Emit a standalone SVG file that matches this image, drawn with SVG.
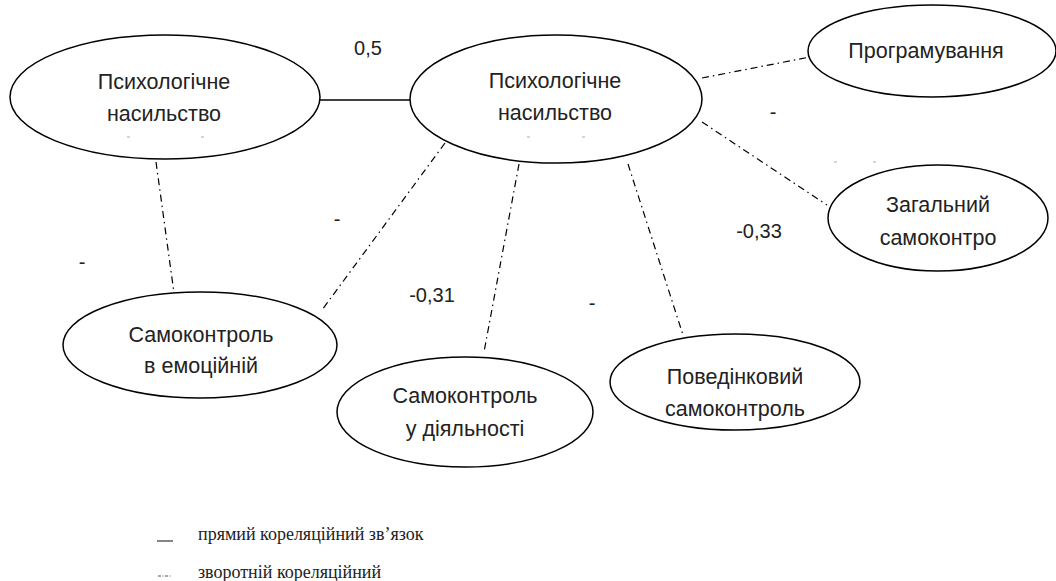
<svg xmlns="http://www.w3.org/2000/svg" width="1056" height="581" viewBox="0 0 1056 581">
<style>
.node{fill:#fff;stroke:#000;stroke-width:1.5}
.t{font-family:"Liberation Sans",Arial,sans-serif;font-size:21.5px;fill:#222;text-anchor:middle}
.lbl{font-family:"Liberation Sans",Arial,sans-serif;font-size:20px;fill:#222;text-anchor:middle}
.solid{stroke:#000;stroke-width:1.5;fill:none}
.dd{stroke:#000;stroke-width:1.2;fill:none;stroke-dasharray:7 4 1.5 4}
.tick{stroke:#aaa;stroke-width:1}
.leg{font-family:"Liberation Serif","Times New Roman",serif;font-size:18px;fill:#222}
</style>
<rect width="1056" height="581" fill="#fff"/>
<g id="connectors">
<line class="solid" x1="320" y1="100" x2="410" y2="100"/>
<line class="dd" x1="702" y1="78" x2="810" y2="57"/>
<line class="dd" x1="702" y1="122" x2="827" y2="205"/>
<line class="dd" x1="156" y1="162" x2="174" y2="293"/>
<line class="dd" x1="445" y1="143" x2="322" y2="310"/>
<line class="dd" x1="519" y1="164" x2="484" y2="352"/>
<line class="dd" x1="628" y1="164" x2="683" y2="335"/>
</g>
<g id="n1">
<ellipse class="node" cx="165" cy="97" rx="155" ry="62"/>
<text class="t" x="164" y="89">Психологічне</text>
<text class="t" x="164" y="121">насильство</text>
<line class="tick" x1="127" y1="137" x2="130" y2="137"/>
<line class="tick" x1="201" y1="137" x2="204" y2="137"/>
</g>
<g id="n2">
<ellipse class="node" cx="556" cy="99" rx="146" ry="64"/>
<text class="t" x="555" y="88">Психологічне</text>
<text class="t" x="555" y="120">насильство</text>
<line class="tick" x1="527" y1="137" x2="530" y2="137"/>
<line class="tick" x1="582" y1="137" x2="585" y2="137"/>
</g>
<g id="n3">
<ellipse class="node" cx="932" cy="51" rx="124" ry="46"/>
<text class="t" x="926" y="58">Програмування</text>
</g>
<g id="n4">
<ellipse class="node" cx="938" cy="218" rx="110" ry="53"/>
<text class="t" x="938" y="212">Загальний</text>
<text class="t" x="938" y="245">самоконтро</text>
</g>
<g id="n5">
<ellipse class="node" cx="200" cy="345" rx="137" ry="53"/>
<text class="t" x="201" y="342">Самоконтроль</text>
<text class="t" x="201" y="373">в емоційній</text>
</g>
<g id="n6">
<ellipse class="node" cx="465" cy="412" rx="128" ry="55"/>
<text class="t" x="465" y="403">Самоконтроль</text>
<text class="t" x="465" y="436">у діяльності</text>
</g>
<g id="n7">
<ellipse class="node" cx="735" cy="382" rx="125" ry="48"/>
<text class="t" x="735" y="384">Поведінковий</text>
<text class="t" x="735" y="416">самоконтроль</text>
</g>
<g id="labels">
<text class="lbl" x="368" y="55">0,5</text>
<text class="lbl" x="759" y="238">-0,33</text>
<text class="lbl" x="432" y="302">-0,31</text>
<text class="lbl" x="773" y="119">-</text>
<text class="lbl" x="337" y="226">-</text>
<text class="lbl" x="82" y="269">-</text>
<text class="lbl" x="592" y="310">-</text>
<line class="tick" x1="834" y1="162" x2="837" y2="162"/>
<line class="tick" x1="873" y1="162" x2="876" y2="162"/>
</g>
<g id="legend">
<line x1="157" y1="541" x2="173" y2="541" stroke="#333" stroke-width="1.2"/>
<text class="leg" x="198" y="540">прямий кореляційний зв’язок</text>
<line x1="158" y1="576" x2="172" y2="576" stroke="#555" stroke-width="1" stroke-dasharray="3 1.5 1 1.5"/>
<text class="leg" x="198" y="578">зворотній кореляційний</text>
</g>
</svg>
